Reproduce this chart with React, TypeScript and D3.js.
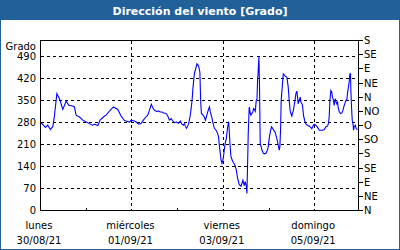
import React from "react";
import * as d3 from "d3";

// Hours since Monday 30/08/21 00:00
const HOURS = [
  0, 2.6, 3.8, 5.2, 6.5, 7.3, 8.6, 10, 11.7, 13.5, 14.8, 16.9, 17.8, 18.7, 20.5, 22.2,
  24, 25.7, 27.1, 28.3, 30.1, 31.3, 33.6, 34.5, 36.2, 38.3, 40.6, 42.3, 44.1,
  45, 46.7, 47.6, 49.3, 50.2, 51.6, 52.8, 54, 55.4, 56.3, 57.2, 58.2, 58.9, 59.8,
  61, 62.1, 62.8, 63.8, 64.7, 65.9, 66.8, 67.7, 68.6, 69.4, 70.3, 71.5, 72.5, 73.4,
  74.3, 75, 75.5, 76.1, 76.7, 77.3, 77.8, 78.5, 79, 79.6, 80.1, 80.8, 81.7, 82.2,
  83, 83.7, 84.1, 84.5,
  85.1, 86, 86.6, 87.1, 87.8, 88.7, 89.2, 89.9, 90.4, 91.3, 92.2, 93, 93.5, 93.9,
  94.4, 94.8, 95.3, 96, 96.5, 97, 97.6, 98.3, 98.8, 99.1, 99.5, 100, 100.6, 101.2,
  101.8, 102.3, 102.8, 103.5, 104.4, 105.3, 105.8, 106.3, 107, 107.5, 108.1, 108.4,
  108.7, 109.1, 109.6, 110.2, 110.5, 111, 111.5, 111.9, 112.3, 112.8, 113.3, 113.7,
  114, 114.4, 114.7, 115, 115.4, 116.3, 117, 117.5, 118.4, 119.2, 119.6, 120.1,
  120.7, 121.3, 121.9, 122.4, 123.1, 123.6, 124.5, 125, 125.4, 125.7, 126.1, 126.4,
  127.5, 128, 128.5, 129.4, 130.1, 130.6, 131.1, 131.5, 132, 132.3, 132.8, 133.2,
  133.7, 134.1, 134.6, 135, 135.3, 135.9, 136.4, 136.8, 137.3, 137.6, 138.1, 138.9,
  139.4, 140.2, 140.8, 141.5, 142, 142.5, 143.1, 143.7, 144.6, 145.5, 146.4, 148.1,
  149, 149.9, 150.7, 151.2, 151.6, 152, 152.5, 153, 153.3, 153.9, 154.2, 154.8,
  155.3, 155.6, 156, 156.3, 156.9, 157.7, 158.3, 158.8, 159.5, 160.4, 160.9, 161.2,
  161.7, 162.1, 162.5, 162.8, 163, 163.3, 163.7, 164.1, 164.4, 164.7, 165.3, 165.8,
  166.5,
];

const DIRECTION = [
  281, 264, 271, 257, 267, 300, 371, 355, 321, 348, 334, 332, 329, 303, 297, 287,
  281, 276, 271, 274, 270, 287, 300, 303, 316, 329, 321, 300, 286,
  284, 281, 287, 284, 281, 274, 276, 287, 297, 303, 318, 337, 327, 318,
  315, 316, 313, 313, 310, 308, 301, 287, 292, 285, 279, 281, 277, 284,
  274, 271, 276, 268, 261, 268, 276, 297, 318, 350, 392, 434, 455, 466,
  460, 440, 350, 308,
  305, 297, 287, 297, 313, 329, 313, 297, 282, 261, 255, 245, 234, 208,
  182, 161, 150, 166, 192, 213, 229, 266, 282, 255, 213, 173, 161, 153,
  148, 141, 129, 103, 82, 77, 87, 96, 79, 92, 77, 54,
  130, 245, 329, 308, 303, 308, 313, 324, 321, 315, 350, 355,
  413, 450, 489, 400, 214, 192, 182, 180, 182, 192, 203, 229,
  250, 266, 261, 255, 250, 240, 219, 203, 192, 203, 260, 350,
  434, 431, 427, 423, 392, 350, 318, 308, 300, 308, 318, 334,
  350, 371, 379, 360, 339, 350, 360, 344, 339, 334, 303, 281,
  274, 271, 269, 266, 264, 260, 268, 274, 271, 264, 255, 255,
  257, 266, 268, 276, 297, 350, 381, 376, 360, 350, 334, 355,
  344, 339, 344, 329, 313, 308, 310, 318, 334, 350, 352, 371,
  392, 408, 434, 434, 381, 334, 287, 276, 255, 266, 271, 260,
  257,
];

const LEFT_TICKS = [0, 70, 140, 210, 280, 350, 420, 490];
const RIGHT_TICK_VALUES = [0, 45, 90, 135, 180, 225, 270, 315, 360, 405, 450, 495, 540];
const RIGHT_TICK_LABELS = ["N", "NE", "E", "SE", "S", "SO", "O", "NO", "N", "NE", "E", "SE", "S"];
const DAY_TICK_HOURS = [0, 48, 96, 144];
const DAY_NAMES = ["lunes", "miércoles", "viernes", "domingo"];
const DAY_DATES = ["30/08/21", "01/09/21", "03/09/21", "05/09/21"];
const MINOR_TICK_HOURS = [24, 72, 120, 167];
const TITLE = "Dirección del viento [Grado]";
const Y_LABEL = "Grado";

const W = 400;
const H = 250;
const L = 40.5;
const R = 358.5;
const T = 40.5;
const B = 210.5;
const BLUE = "#22609a";
const FONT = "'DejaVu Sans', Verdana, sans-serif";

export default function App() {
  const x = d3.scaleLinear().domain([0, 167]).range([L, R]);
  const y = d3.scaleLinear().domain([0, 540]).range([B, T]);
  const line = d3
    .line<number>()
    .x((_, i) => x(HOURS[i]))
    .y((d) => y(d));
  const snap = (v: number) => Math.round(v - 0.5) + 0.5;

  return (
    <svg
      width={W}
      height={H}
      style={{ position: "absolute", left: 0, top: 0 }}
      fontFamily={FONT}
    >
      <rect x={0} y={0} width={W} height={H} fill="#ffffff" />
      <rect x={0} y={0} width={W} height={20} fill={BLUE} />
      <rect x={0.5} y={0.5} width={W - 1} height={H - 1} fill="none" stroke={BLUE} />
      <text x={200} y={14.5} textAnchor="middle" fill="#ffffff" fontWeight="bold" fontSize={11}>
        {TITLE}
      </text>

      {/* horizontal grid */}
      {LEFT_TICKS.filter((v) => v > 0).map((v) => (
        <line
          key={"hg" + v}
          x1={L}
          x2={R}
          y1={snap(y(v))}
          y2={snap(y(v))}
          stroke="#000"
          strokeDasharray="3,3"
          shapeRendering="crispEdges"
        />
      ))}
      {/* vertical grid */}
      {DAY_TICK_HOURS.filter((h) => h > 0).map((h) => (
        <line
          key={"vg" + h}
          x1={snap(x(h))}
          x2={snap(x(h))}
          y1={T}
          y2={B}
          stroke="#000"
          strokeDasharray="3,3"
          shapeRendering="crispEdges"
        />
      ))}
      {MINOR_TICK_HOURS.map((h) => (
        <line
          key={"mt" + h}
          x1={snap(x(h))}
          x2={snap(x(h))}
          y1={B}
          y2={B - 3}
          stroke="#000"
          shapeRendering="crispEdges"
        />
      ))}

      <path d={line(DIRECTION) || ""} fill="none" stroke="#0000ff" strokeWidth={1.1} />

      <rect x={L} y={T} width={R - L} height={B - T} fill="none" stroke="#000" shapeRendering="crispEdges" />

      {/* left axis */}
      <text x={36} y={49.5} textAnchor="end" fontSize={10} fill="#000">
        {Y_LABEL}
      </text>
      {LEFT_TICKS.map((v) => (
        <text key={"lt" + v} x={36} y={y(v)} dy="0.36em" textAnchor="end" fontSize={10} fill="#000">
          {v}
        </text>
      ))}

      {/* right axis */}
      {RIGHT_TICK_VALUES.map((v, i) => (
        <g key={"rt" + i}>
          <line
            x1={R}
            x2={R + 4}
            y1={snap(y(v))}
            y2={snap(y(v))}
            stroke="#000"
            shapeRendering="crispEdges"
          />
          <text x={364} y={y(v)} dy="0.36em" fontSize={10} fill="#000">
            {RIGHT_TICK_LABELS[i]}
          </text>
        </g>
      ))}

      {/* bottom axis labels */}
      {DAY_TICK_HOURS.map((h, i) => (
        <g key={"bt" + h}>
          <text x={x(h) - 1.5} y={228.5} textAnchor="middle" fontSize={10} fill="#000">
            {DAY_NAMES[i]}
          </text>
          <text x={x(h) - 1.5} y={244} textAnchor="middle" fontSize={10} fill="#000">
            {DAY_DATES[i]}
          </text>
        </g>
      ))}
    </svg>
  );
}
